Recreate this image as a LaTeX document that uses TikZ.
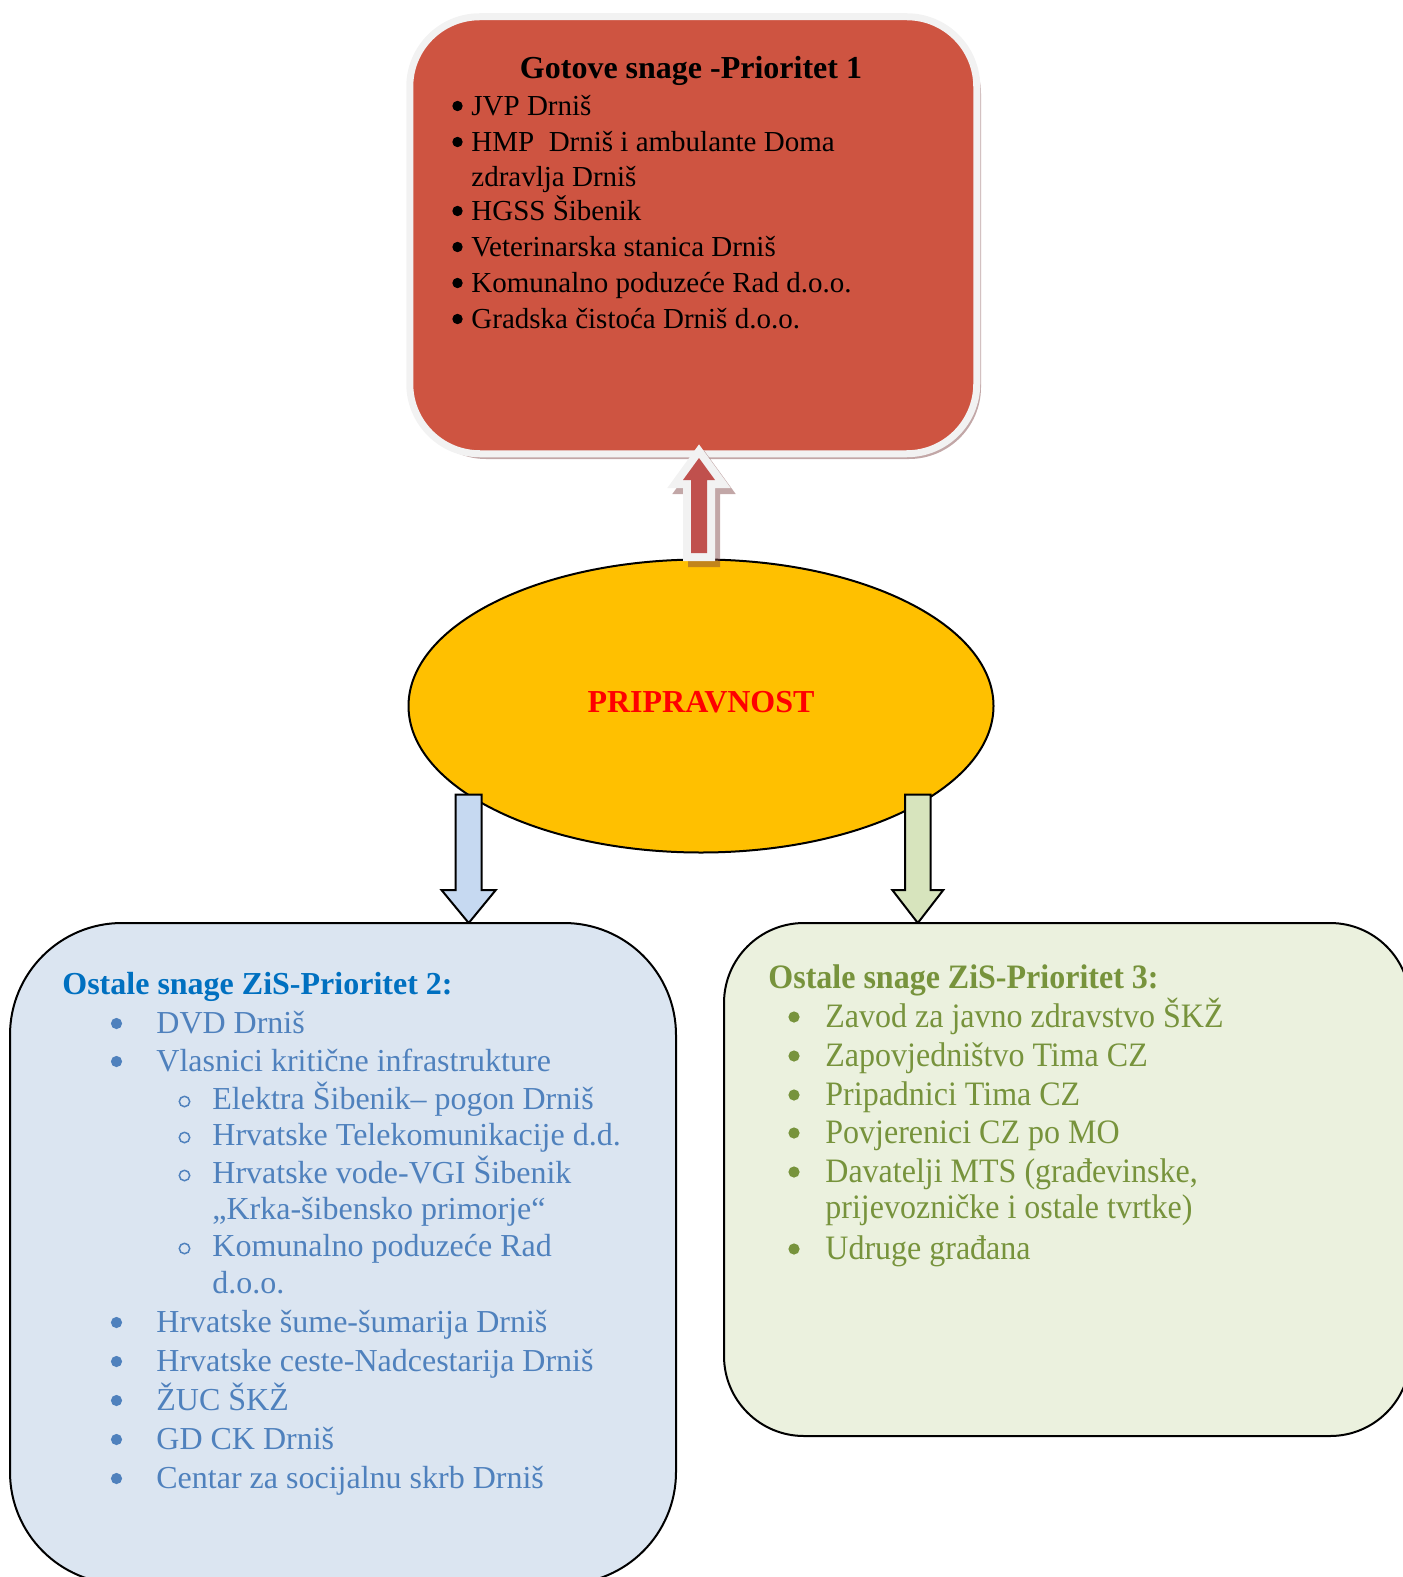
\documentclass[tikz,border=0pt]{standalone}
\usepackage{fontspec}
\setmainfont{Liberation Serif}
\usetikzlibrary{shapes.geometric}
\definecolor{redbox}{RGB}{206,84,65}
\definecolor{redarrow}{RGB}{192,80,77}
\definecolor{borderwhite}{RGB}{242,242,242}
\definecolor{shadowc}{RGB}{120,60,60}
\definecolor{gold}{RGB}{255,192,0}
\definecolor{bluefill}{RGB}{219,229,241}
\definecolor{greenfill}{RGB}{235,241,222}
\definecolor{bluearrow}{RGB}{198,217,241}
\definecolor{greenarrow}{RGB}{215,228,189}
\definecolor{bluetitle}{RGB}{0,112,192}
\definecolor{bluetext}{RGB}{79,129,189}
\definecolor{greentext}{RGB}{119,147,60}
\newcommand{\gstretch}[1]{\scalebox{1}[1.07]{#1}}
\begin{document}
\begin{tikzpicture}[x=0.5pt,y=-0.5pt,
  redline/.style={anchor=base west,inner sep=0pt,font=\fontsize{14.5}{16}\selectfont},
  redbul/.style={circle,fill=black,minimum size=5.2pt,inner sep=0pt},
  blueline/.style={anchor=base west,inner sep=0pt,text=bluetext,font=\fontsize{16}{18}\selectfont},
  bluebul/.style={circle,fill=bluetext,minimum size=5.6pt,inner sep=0pt},
  bluesub/.style={circle,draw=bluetext,line width=0.75pt,minimum size=5.2pt,inner sep=0pt},
  greenline/.style={anchor=base west,inner sep=0pt,text=greentext,font=\fontsize{16}{18}\selectfont},
  greenbul/.style={circle,fill=greentext,minimum size=5.6pt,inner sep=0pt},
  titlefont/.style={inner sep=0pt,font=\fontsize{16}{18}\selectfont\bfseries},
  blockarrow/.style={draw=black,line width=1pt,line join=miter}
]
\useasboundingbox (0,0) rectangle (1402,1577);

% ---------- red box (priority 1) ----------
\fill[shadowc,opacity=0.45,rounded corners=36pt] (414,22) rectangle (981,459);
\node (red) [draw=borderwhite,line width=3.5pt,fill=redbox,rounded corners=35pt,
  minimum width=283.5pt,minimum height=218.5pt,inner sep=0pt,outer sep=0pt] at (693.25,235.25) {};

\node (redtitle) [titlefont,anchor=base] at (691,79) {Gotove snage -Prioritet 1};
\node (rb1) [redbul] at (457.5,106) {};
\node (r1) [redline] at (471,115.5) {JVP Drniš};
\node (rb2) [redbul] at (457.5,142) {};
\node (r2) [redline] at (471,151.5) {HMP\ \ Drniš i ambulante Doma};
\node (r2b) [redline] at (471,186.5) {zdravlja Drniš};
\node (rb3) [redbul] at (457.5,211) {};
\node (r3) [redline] at (471,220.5) {HGSS Šibenik};
\node (rb4) [redbul] at (457.5,247) {};
\node (r4) [redline] at (471,256.5) {Veterinarska stanica Drniš};
\node (rb5) [redbul] at (457.5,283) {};
\node (r5) [redline] at (471,292.5) {Komunalno poduzeće Rad d.o.o.};
\node (rb6) [redbul] at (457.5,319) {};
\node (r6) [redline] at (471,328.5) {Gradska čistoća Drniš d.o.o.};

% ---------- central ellipse ----------
\node (prip) [ellipse,draw=black,line width=1pt,fill=gold,minimum width=292.5pt,minimum height=146.5pt,inner sep=0pt] at (701,706) {};
\node (priptxt) [titlefont,text=red,anchor=base] at (701,712) {PRIPRAVNOST};

% ---------- up arrow (to priority 1) ----------
\path[shift={(5,6)},fill=shadowc,draw=shadowc,opacity=0.45,line width=8pt,line join=miter]
  (699,458) -- (715,480) -- (707,480) -- (707,553) -- (691,553) -- (691,480) -- (683,480) -- cycle;
\draw[borderwhite,line width=8pt,line join=miter]
  (699,458) -- (715,480) -- (707,480) -- (707,553) -- (691,553) -- (691,480) -- (683,480) -- cycle;
\fill[redarrow]
  (699,458) -- (715,480) -- (707,480) -- (707,553) -- (691,553) -- (691,480) -- (683,480) -- cycle;

% ---------- down arrows ----------
\draw[blockarrow,fill=bluearrow] (455.7,794.5) -- (481.7,794.5) -- (481.7,890) -- (495.8,890) -- (468.7,923) -- (441.5,890) -- (455.7,890) -- cycle;
\draw[blockarrow,fill=greenarrow] (905,794.5) -- (930.5,794.5) -- (930.5,890) -- (943.3,890) -- (917.8,923) -- (892.3,890) -- (905,890) -- cycle;

% ---------- blue box (priority 2) ----------
\node (blue) [draw=black,line width=1pt,fill=bluefill,rounded corners=56pt,
  minimum width=333pt,minimum height=330.5pt,inner sep=0pt,outer sep=0pt] at (343,1253.5) {};
\node (bluetitle) [titlefont,text=bluetitle,anchor=base west] at (62,994) {Ostale snage ZiS-Prioritet 2:};
\node (bb1) [bluebul] at (116.5,1023.5) {};
\node (b1) [blueline] at (156,1033) {DVD Drniš};
\node (bb2) [bluebul] at (116.5,1061.5) {};
\node (b2) [blueline] at (156,1071) {Vlasnici kritične infrastrukture};
\node (bs1) [bluesub] at (184.5,1101.5) {};
\node (b3) [blueline] at (212,1109) {Elektra Šibenik– pogon Drniš};
\node (bs2) [bluesub] at (184.5,1137.5) {};
\node (b4) [blueline] at (212,1145) {Hrvatske Telekomunikacije d.d.};
\node (bs3) [bluesub] at (184.5,1175.5) {};
\node (b5) [blueline] at (212,1183) {Hrvatske vode-VGI Šibenik};
\node (b5b) [blueline] at (212,1219) {„Krka-šibensko primorje“};
\node (bs4) [bluesub] at (184.5,1248.5) {};
\node (b6) [blueline] at (212,1256) {Komunalno poduzeće Rad};
\node (b6b) [blueline] at (212,1293) {d.o.o.};
\node (bb3) [bluebul] at (116.5,1322.5) {};
\node (b7) [blueline] at (156,1332) {Hrvatske šume-šumarija Drniš};
\node (bb4) [bluebul] at (116.5,1361.5) {};
\node (b8) [blueline] at (156,1371) {Hrvatske ceste-Nadcestarija Drniš};
\node (bb5) [bluebul] at (116.5,1400.5) {};
\node (b9) [blueline] at (156,1410) {ŽUC ŠKŽ};
\node (bb6) [bluebul] at (116.5,1439.5) {};
\node (b10) [blueline] at (156,1449) {GD CK Drniš};
\node (bb7) [bluebul] at (116.5,1478.5) {};
\node (b11) [blueline] at (156,1488) {Centar za socijalnu skrb Drniš};

% ---------- green box (priority 3) ----------
\node (green) [draw=black,line width=1pt,fill=greenfill,rounded corners=40pt,
  minimum width=343pt,minimum height=256.5pt,inner sep=0pt,outer sep=0pt] at (1067,1179.5) {};
\node (greentitle) [titlefont,text=greentext,anchor=base west] at (768,988) {\gstretch{Ostale snage ZiS-Prioritet 3:}};
\node (gb1) [greenbul] at (794,1017) {};
\node (g1) [greenline] at (825,1027) {\gstretch{Zavod za javno zdravstvo ŠKŽ}};
\node (gb2) [greenbul] at (794,1056) {};
\node (g2) [greenline] at (825,1066) {\gstretch{Zapovjedništvo Tima CZ}};
\node (gb3) [greenbul] at (794,1095) {};
\node (g3) [greenline] at (825,1105) {\gstretch{Pripadnici Tima CZ}};
\node (gb4) [greenbul] at (794,1133) {};
\node (g4) [greenline] at (825,1143) {\gstretch{Povjerenici CZ po MO}};
\node (gb5) [greenbul] at (794,1172) {};
\node (g5) [greenline] at (825,1182) {\gstretch{Davatelji MTS (građevinske,}};
\node (g5b) [greenline] at (825,1218) {\gstretch{prijevozničke i ostale tvrtke)}};
\node (gb6) [greenbul] at (794,1249) {};
\node (g6) [greenline] at (825,1259) {\gstretch{Udruge građana}};
\end{tikzpicture}
\end{document}
